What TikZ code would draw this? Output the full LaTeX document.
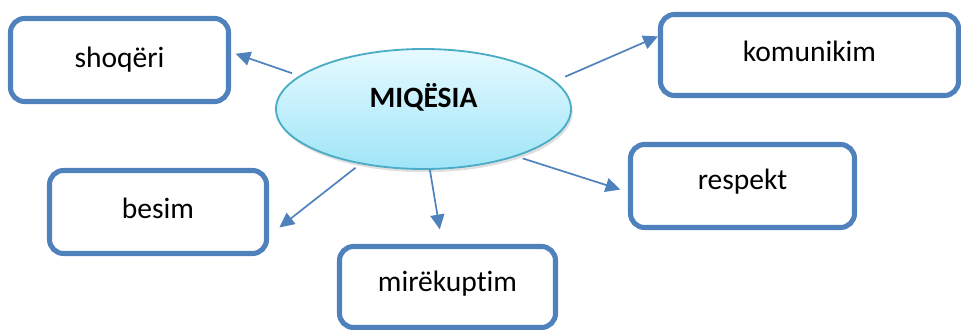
\documentclass[tikz,border=0pt]{standalone}
\usepackage{fontspec}
\setmainfont{Carlito}[Ligatures=NoCommon]
\usepackage{tikz}
\usetikzlibrary{arrows.meta,positioning,shapes.geometric,shadows}
\definecolor{boxblue}{HTML}{4F81BD}
\definecolor{rimteal}{HTML}{4BACC6}
\definecolor{skytop}{HTML}{E6FAFF}
\definecolor{skybot}{HTML}{9FE5F8}

\begin{document}
\begin{tikzpicture}[>={Triangle[length=10.5pt,width=10pt]},
  word/.style={draw=boxblue,line width=3.6pt,rounded corners=0.35cm,fill=white,
    minimum height=2.05cm,inner sep=0pt,font=\fontsize{21}{25}\selectfont},
  link/.style={->,draw=boxblue,line width=1.2pt}]
\useasboundingbox (0,0) rectangle (24.025,8.225);
\node[ellipse,draw=rimteal,line width=1.3pt,top color=skytop,bottom color=skybot,
  minimum width=7.375cm,minimum height=3cm,inner sep=0pt,
  drop shadow={opacity=0.25,shadow xshift=0.04cm,shadow yshift=-0.08cm},
  text height=0.45cm,text depth=0.5cm,font=\fontsize{21}{25}\selectfont\bfseries]
  (miq) at (10.5875,5.5) {MIQËSIA};
\node[word,minimum width=5.45cm,minimum height=2.075cm] (shoq) at (2.9875,6.725) {shoqëri};
\node[word,minimum width=7.45cm,minimum height=2.025cm,text depth=0.2cm] (komu) at (20.2375,6.85) {komunikim};
\node[word,minimum width=5.425cm,minimum height=2.075cm,text depth=0.2cm] (besim) at (3.95,2.925) {besim};
\node[word,minimum width=5.4cm,minimum height=2.025cm,text depth=0.3cm] (mirek) at (11.1875,1.05) {mirëkupt\kern0pt im};
\node[word,minimum width=5.6cm,minimum height=2.075cm,text depth=0.35cm] (resp) at (18.5625,3.575) {respekt};
% lidhjet nga qendra
\draw[link,shorten <=0.19cm,shorten >=0.12cm] (miq.165) -- (shoq.4);
\draw[link,shorten <=0.27cm] (miq.12) -- (komu.173);
\draw[link,shorten <=0.15cm,shorten >=0.33cm] (miq.221) -- (besim.348);
\draw[link,shorten >=0.37cm] (miq.276) -- (mirek.97);
\draw[link,shorten <=0.16cm,shorten >=0.2cm] (miq.333) -- (resp.183);
\end{tikzpicture}
\end{document}
